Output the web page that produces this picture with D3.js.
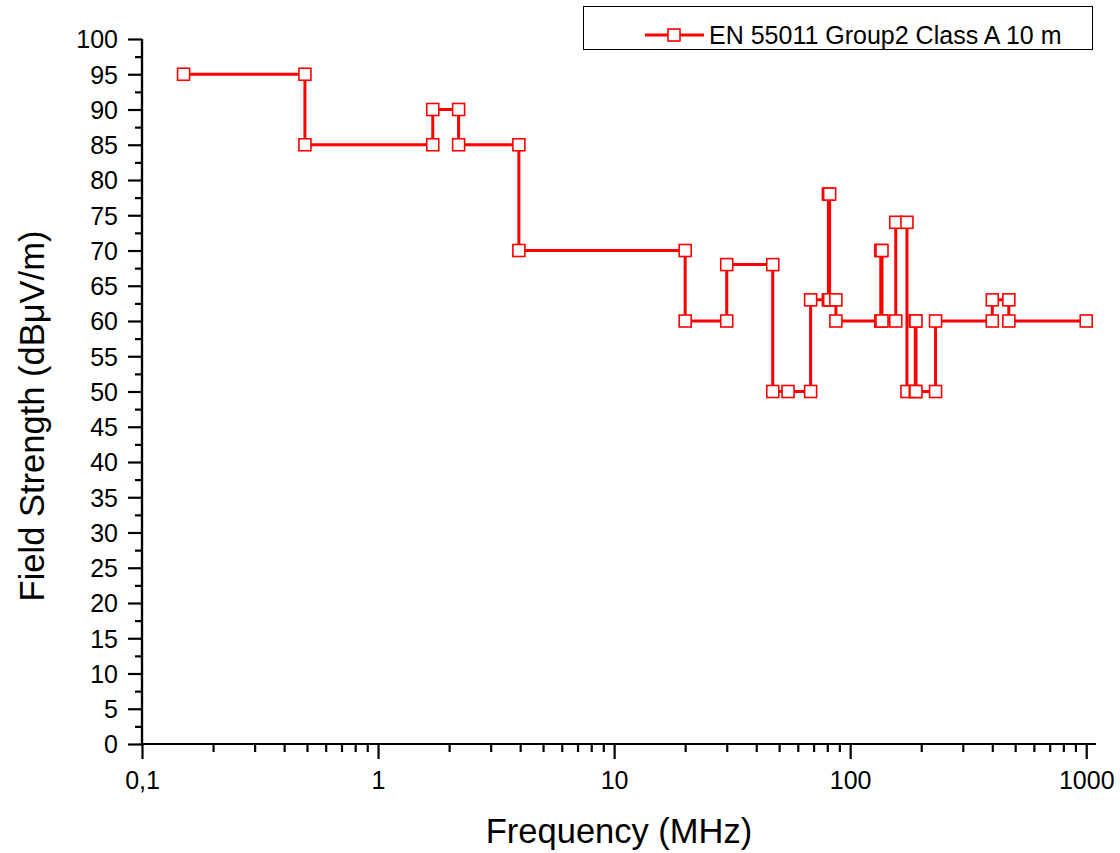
<!DOCTYPE html>
<html>
<head>
<meta charset="utf-8">
<script src="https://cdn.jsdelivr.net/npm/d3@7"></script>
<style>
  html, body { margin: 0; padding: 0; background: #fff; }
  svg { display: block; font-family: "Liberation Sans", Arial, sans-serif; }
</style>
</head>
<body>
<svg id="chart" width="1120" height="853"></svg>
<script>
// EN 55011 Group 2 Class A limit line at 10 m (step corners)
const freqMHz = [0.15, 0.49, 0.49, 1.705, 1.705, 2.194, 2.194, 3.95, 3.95, 20, 20, 30, 30, 47, 47, 54.56,
  68, 68, 80.872, 80.872, 81.848, 81.848, 87, 87, 134.786, 134.786, 136.414, 136.414, 156, 156, 174, 174,
  188.7, 188.7, 190, 190, 230, 230, 400, 400, 470, 470, 1000];
const limitDb = [95, 95, 85, 85, 90, 90, 85, 85, 70, 70, 60, 60, 68, 68, 50, 50,
  50, 63, 63, 78, 78, 63, 63, 60, 60, 70, 70, 60, 60, 74, 74, 50,
  50, 60, 60, 50, 50, 60, 60, 63, 63, 60, 60];
const seriesName = "EN 55011 Group2 Class A 10 m";

const xMajorTicks = [0.1, 1, 10, 100, 1000];
const xTickLabels = ["0,1", "1", "10", "100", "1000"];
const yMajorTicks = d3.range(0, 101, 5);

const svg = d3.select("#chart");
const x = d3.scaleLog().domain([0.1, 1100]).range([142, 1096]);
const y = d3.scaleLinear().domain([0, 100]).range([744, 39]);

const red = "#ff0000";
const tickFont = 25;
const titleFont = 34.5;

// minor x ticks: 2..9 within each decade
const xMinorTicks = [];
[0.1, 1, 10, 100].forEach(d => { for (let k = 2; k <= 9; k++) xMinorTicks.push(d * k); });
const yMinorTicks = d3.range(2.5, 100, 5);

// x axis
const xAxisG = svg.append("g").attr("transform", `translate(0,${y(0)})`);
xAxisG.call(d3.axisBottom(x).tickValues(xMajorTicks).tickSize(15)
  .tickFormat((d, i) => xTickLabels[i]));
xAxisG.append("g").call(d3.axisBottom(x).tickValues(xMinorTicks).tickSize(8).tickFormat(""));
xAxisG.selectAll(".domain").attr("stroke-width", 2.2).attr("d", `M${x(0.1)},0H${x(1100)}`);
xAxisG.selectAll(".tick line").attr("stroke-width", 2.2);
xAxisG.selectAll(".tick text").attr("font-size", tickFont).attr("fill", "#000")
  .attr("y", 0).attr("dy", 0).attr("transform", "translate(0,45)");

// y axis
const yAxisG = svg.append("g").attr("transform", `translate(${x(0.1)},0)`);
yAxisG.call(d3.axisLeft(y).tickValues(yMajorTicks).tickSize(14).tickFormat(d3.format("d")));
yAxisG.append("g").call(d3.axisLeft(y).tickValues(yMinorTicks).tickSize(7).tickFormat(""));
yAxisG.selectAll(".domain").attr("stroke-width", 2.2).attr("d", `M0,${y(100)}V${y(0)}`);
yAxisG.selectAll(".tick line").attr("stroke-width", 2.2);
yAxisG.selectAll(".tick text").attr("font-size", tickFont).attr("fill", "#000").attr("x", -24).attr("dy", "0.35em");
svg.selectAll(".domain, .tick line").attr("stroke", "#000");

// axis titles
svg.append("text").attr("x", (x(0.1) + x(1100)) / 2).attr("y", 843)
  .attr("text-anchor", "middle").attr("font-size", titleFont).text("Frequency (MHz)");
svg.append("text").attr("transform", "translate(44,416) rotate(-90)")
  .attr("text-anchor", "middle").attr("font-size", titleFont).text("Field Strength (dBμV/m)");

// limit line
const pts = freqMHz.map((f, i) => [f, limitDb[i]]);
const line = d3.line().x(d => x(d[0])).y(d => y(d[1]));
svg.append("path").datum(pts).attr("d", line)
  .attr("fill", "none").attr("stroke", red).attr("stroke-width", 3).attr("stroke-linejoin", "miter");

const msize = 12;
svg.append("g").selectAll("rect").data(pts).join("rect")
  .attr("x", d => x(d[0]) - msize / 2).attr("y", d => y(d[1]) - msize / 2)
  .attr("width", msize).attr("height", msize)
  .attr("fill", "#fff").attr("stroke", red).attr("stroke-width", 1.6);

// legend
const lg = svg.append("g");
lg.append("rect").attr("x", 583.5).attr("y", 6.5).attr("width", 509).attr("height", 43)
  .attr("fill", "#fff").attr("stroke", "#000").attr("stroke-width", 1);
lg.append("line").attr("x1", 645).attr("x2", 704).attr("y1", 35).attr("y2", 35)
  .attr("stroke", red).attr("stroke-width", 3);
lg.append("rect").attr("x", 674 - msize / 2).attr("y", 35 - msize / 2).attr("width", msize).attr("height", msize)
  .attr("fill", "#fff").attr("stroke", red).attr("stroke-width", 1.6);
lg.append("text").attr("x", 709).attr("y", 44).attr("font-size", tickFont).text(seriesName);
</script>
</body>
</html>
